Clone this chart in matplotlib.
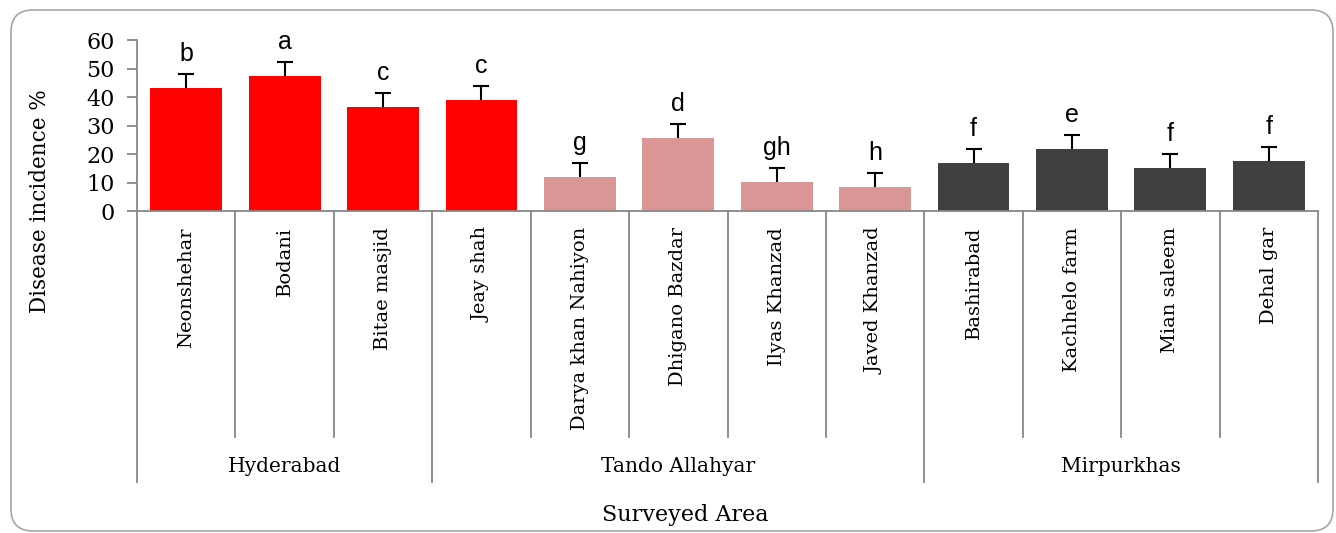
import matplotlib
matplotlib.use("Agg")
import matplotlib.pyplot as plt
import matplotlib.transforms as mtransforms
from matplotlib.patches import FancyBboxPatch
import numpy as np

# ---- data ----
sites = ["Neonshehar", "Bodani", "Bitae masjid", "Jeay shah", "Darya khan Nahiyon",
         "Dhigano Bazdar", "Ilyas Khanzad", "Javed Khanzad", "Bashirabad",
         "Kachhelo farm", "Mian saleem", "Dehal gar"]
incidence = [43.1, 47.3, 36.4, 38.9, 11.8, 25.6, 10.1, 8.3, 16.8, 21.7, 15.0, 17.5]
errors = [5.0, 5.0, 5.0, 5.0, 5.0, 5.0, 5.0, 5.0, 5.0, 5.0, 5.0, 5.0]
letters = ["b", "a", "c", "c", "g", "d", "gh", "h", "f", "e", "f", "f"]
color_group = ["hyd", "hyd", "hyd", "hyd", "tan", "tan", "tan", "tan", "mir", "mir", "mir", "mir"]
districts = ["Hyderabad", "Tando Allahyar", "Mirpurkhas"]
district_sizes = [3, 5, 4]
yticks = [0, 10, 20, 30, 40, 50, 60]

palette = {"hyd": "#FF0000", "tan": "#D99694", "mir": "#404040"}
serif = "DejaVu Serif"
axis_grey = "#878787"

W, H = 1336, 533
fig = plt.figure(figsize=(W / 100, H / 100), dpi=100)

def fx(px):
    return px / W

def fy(py):
    return 1 - py / H

ax_left, ax_right, ax_top, ax_bot = 137, 1318, 40, 211
ax = fig.add_axes([fx(ax_left), fy(ax_bot), fx(ax_right - ax_left), (ax_bot - ax_top) / H])

x = np.arange(len(sites))
cols = [palette[g] for g in color_group]
ax.bar(x, incidence, width=0.73, color=cols, zorder=2)
eb = ax.errorbar(x, incidence, yerr=[np.zeros(len(x)), errors], fmt="none",
                 ecolor="black", elinewidth=1.5, capsize=5.5, capthick=1.5, zorder=3)
# keep only the upper caps (plus-direction error bars)
caplines = eb[1]
if len(caplines) == 2:
    caplines[0].set_visible(False)

for xi, v, e, lab in zip(x, incidence, errors, letters):
    ax.text(xi, v + e + 4.5, lab, ha="center", va="baseline",
            fontsize=18, family="Liberation Sans", color="black")

ax.set_xlim(-0.5, len(sites) - 0.5)
ax.set_ylim(0, 60)
ax.set_yticks(yticks)
ax.set_yticklabels([str(t) for t in yticks], fontsize=16, family=serif)
ax.tick_params(axis="y", length=7, width=1.3, color=axis_grey, pad=9)
ax.set_xticks([])
for s in ["top", "right"]:
    ax.spines[s].set_visible(False)
for s in ["left", "bottom"]:
    ax.spines[s].set_color(axis_grey)
    ax.spines[s].set_linewidth(1.3)

# category dividers and labels (below the axis)
trans = mtransforms.blended_transform_factory(ax.transData, fig.transFigure)
bounds = np.cumsum([0] + district_sizes)
group_edges = set(bounds.tolist())
for b in range(len(sites) + 1):
    bottom = 482 if b in group_edges else 437
    ax.plot([b - 0.5, b - 0.5], [fy(ax_bot), fy(bottom)], color=axis_grey, lw=1.3,
            transform=trans, clip_on=False)
for xi, name in zip(x, sites):
    ax.text(xi, fy(227), name, rotation=90, ha="center", va="top",
            fontsize=14, family=serif, transform=trans)
for i, name in enumerate(districts):
    cx = (bounds[i] + bounds[i + 1]) / 2 - 0.5
    ax.text(cx, fy(467), name, ha="center", va="center", fontsize=14.5,
            family=serif, transform=trans)

fig.text(fx(685), fy(515), "Surveyed Area", ha="center", va="center",
         fontsize=16, family=serif)
fig.text(fx(40), fy(201), "Disease incidence %", rotation=90, ha="center",
         va="center", fontsize=15.5, family=serif)

# rounded chart-area border
border = FancyBboxPatch((11, H - 531), 1322, 521, boxstyle="round,pad=0,rounding_size=22",
                        transform=mtransforms.IdentityTransform(), facecolor="none",
                        edgecolor="#A6A6A6", linewidth=1.2)
fig.add_artist(border)

fig.savefig("out.png", dpi=100)
